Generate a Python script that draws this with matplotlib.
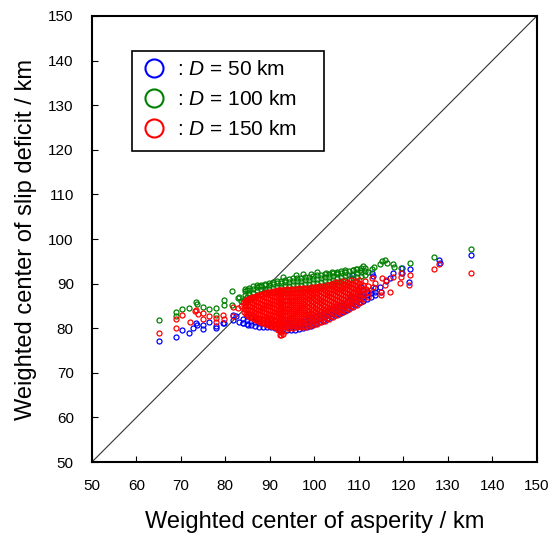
import matplotlib
matplotlib.use("Agg")
import matplotlib.pyplot as plt
from matplotlib.lines import Line2D
from matplotlib.patches import Rectangle

plt.rcParams['font.family'] = ['Liberation Sans', 'DejaVu Sans']
plt.rcParams['mathtext.fontset'] = 'custom'
plt.rcParams['mathtext.rm'] = 'Liberation Sans'
plt.rcParams['mathtext.it'] = 'Liberation Sans:italic'

# --- data: weighted centers (asperity, slip deficit) in km -------------
# sparse points, read one by one
BLUE_X = [65.1, 68.8, 70.2, 71.9, 72.8, 73.5, 73.7, 75.0, 74.9, 76.3, 77.9, 78.0,
          79.5, 79.7, 81.8, 81.8, 82.5, 83.0, 84.0, 85.1,
          105.7, 106.3, 108.0, 108.4, 108.7, 110.2, 110.6, 111.0, 112.9, 113.2,
          114.7, 114.9, 116.2, 117.0, 117.7, 119.6, 119.6, 121.5, 121.3, 128.0,
          128.2, 135.3]
BLUE_Y = [77.1, 78.1, 79.6, 78.9, 80.0, 81.1, 80.7, 79.8, 80.7, 81.5, 80.0, 80.6,
          81.1, 81.1, 81.8, 83.0, 82.7, 81.5, 81.1, 80.7,
          85.2, 84.5, 87.1, 92.0, 88.2, 87.4, 89.3, 88.6, 92.3, 91.7,
          89.3, 88.2, 90.5, 91.2, 92.3, 93.5, 92.3, 93.2, 90.3, 95.2,
          94.6, 96.4]

GREEN_X = [65.1, 68.9, 68.9, 70.2, 71.9, 73.5, 73.6, 74.9, 76.3, 77.9, 77.9,
           79.7, 79.7, 81.6, 81.5, 82.9, 83.1, 83.5, 84.0, 84.8, 84.8, 86.3, 87.5,
           88.9, 97.5, 100.7, 102.6, 105.0, 106.9, 108.7, 109.3, 110.2, 111.0,
           112.1, 112.9, 113.5, 114.7, 115.1, 115.8, 116.4, 117.7, 118.0, 119.4,
           121.5, 126.9, 135.3, 93.0, 95.8, 99.2, 103.9]
GREEN_Y = [81.8, 83.7, 82.8, 84.3, 84.5, 85.9, 85.4, 84.7, 84.3, 84.5, 83.0,
           86.3, 85.3, 88.3, 85.2, 86.7, 87.1, 86.2, 85.8, 88.6, 87.1, 88.0, 89.5,
           88.2, 92.2, 92.6, 92.4, 92.7, 92.7, 93.0, 93.2, 93.1, 94.0,
           92.7, 93.2, 93.7, 94.4, 95.0, 95.2, 94.6, 94.3, 93.8, 93.4,
           94.7, 95.9, 97.7, 91.4, 91.9, 92.2, 92.7]

RED_X = [65.1, 68.9, 68.9, 70.2, 72.0, 73.1, 73.5, 73.9, 75.0, 74.9, 76.3,
         77.9, 77.9, 79.5, 79.6, 81.8, 81.7, 82.9, 83.5, 84.8,
         105.0, 108.7, 109.8, 111.3, 111.7, 112.9, 113.2, 113.6, 114.9, 114.9,
         115.1, 115.8, 116.2, 117.0, 117.7, 119.2, 119.4, 119.4, 121.5, 121.3,
         126.9, 128.0, 135.3]
RED_Y = [78.9, 82.0, 80.0, 83.0, 81.5, 83.9, 84.1, 83.1, 82.0, 83.5, 82.7,
         82.4, 81.4, 83.0, 82.0, 82.7, 84.7, 84.5, 85.0, 86.2,
         86.4, 87.9, 88.6, 90.5, 88.9, 91.2, 89.3, 90.1, 87.5, 88.2,
         91.2, 89.7, 90.8, 88.2, 91.5, 90.1, 92.4, 91.4, 92.0, 89.6,
         93.3, 94.4, 92.5]

# dense core, read column by column (x, then the y values in that column)
BLUE_CORE_X = [84.0, 84.9, 85.8, 86.7, 87.6, 88.5, 89.4, 90.3, 91.2, 92.1, 93.0,
               93.9, 94.8, 95.7, 96.6, 97.5, 98.4, 99.3, 100.2, 101.1, 102.0,
               102.9, 103.8, 104.7, 105.6, 106.5, 107.4, 108.3, 109.2, 110.1,
               111.0, 111.9, 112.8, 113.7]
BLUE_CORE_Y = [[81.1, 82.0], [80.9, 81.8, 82.7], [80.7, 81.6, 82.5],
               [80.4, 81.3, 82.2], [80.3, 81.2, 82.1], [80.3, 81.1, 82.0],
               [80.2, 81.1, 81.9], [80.3, 81.0, 81.8], [80.0, 80.8, 81.6],
               [79.9, 80.7, 81.5], [79.8, 80.6, 81.4], [79.7, 80.5, 81.3],
               [79.6, 80.4, 81.2], [79.7, 80.5, 81.3], [79.8, 80.6, 81.4],
               [80.0, 80.8, 81.6], [80.3, 81.1, 81.9], [80.6, 81.4, 82.2],
               [80.9, 81.7, 82.5], [81.3, 82.1, 82.9], [81.7, 82.5, 83.3],
               [82.1, 82.9, 83.7], [82.5, 83.3, 84.1], [82.9, 83.7, 84.5],
               [83.3, 84.1, 84.9], [83.7, 84.5, 85.3], [84.2, 85.0, 85.8],
               [84.7, 85.5, 86.3], [85.2, 86.0, 86.8], [85.7, 86.5, 87.3],
               [86.1, 86.9, 87.7], [86.6, 87.4, 88.2], [87.0, 87.8, 88.6],
               [87.4, 88.2, 89.0]]

GREEN_CORE_X = [84.5, 85.4, 86.3, 87.2, 88.1, 89.0, 89.9, 90.8, 91.7, 92.6, 93.5,
                94.4, 95.3, 96.2, 97.1, 98.0, 98.9, 99.8, 100.7, 101.6, 102.5,
                103.4, 104.3, 105.2, 106.1, 107.0, 107.9, 108.8, 109.7, 110.6,
                111.5]
GREEN_CORE_Y = [[86.5, 87.4, 88.3, 88.9], [86.8, 87.7, 88.6, 89.1],
                [87.1, 88.0, 88.9, 89.4], [87.4, 88.3, 89.2, 89.7],
                [87.7, 88.6, 89.5, 89.8], [87.9, 88.8, 89.7, 90.0],
                [88.0, 88.9, 89.8, 90.2], [88.1, 89.0, 89.9, 90.4],
                [88.3, 89.2, 90.1, 90.6], [88.4, 89.3, 90.2, 90.7],
                [88.5, 89.4, 90.3, 90.9], [88.6, 89.5, 90.4, 91.0],
                [88.7, 89.6, 90.5, 91.2], [88.8, 89.7, 90.6, 91.3],
                [88.9, 89.8, 90.7, 91.3], [89.0, 89.9, 90.8, 91.4],
                [89.1, 90.0, 90.9, 91.6], [89.2, 90.1, 91.0, 91.8],
                [89.3, 90.2, 91.1, 91.9], [89.4, 90.3, 91.2, 92.0],
                [89.6, 90.5, 91.4, 92.1], [89.8, 90.7, 91.6, 92.2],
                [90.0, 90.9, 91.8, 92.3], [90.3, 91.2, 92.1, 92.5],
                [90.6, 91.5, 92.4, 92.8], [90.9, 91.8, 92.7, 93.1],
                [91.1, 92.0, 92.9], [91.3, 92.2, 93.1], [91.5, 92.4, 93.2],
                [91.7, 92.6, 93.4], [91.9, 92.8, 93.5]]

RED_CORE_X = [84.1, 85.0, 85.9, 86.8, 87.7, 88.6, 89.5, 90.4, 91.3, 92.2, 93.0,
              93.9, 94.8, 95.7, 96.6, 97.5, 98.4, 99.3, 100.2, 101.1, 102.0,
              102.9, 103.8, 104.7, 105.6, 106.5, 107.4, 108.3, 109.2, 110.1,
              111.0, 112.1,
              84.6, 85.5, 86.4, 87.3, 88.2, 89.1, 90.0, 90.9, 91.8, 92.6, 93.5,
              94.4, 95.3, 96.2, 97.1, 98.0, 98.9, 99.8, 100.7, 101.6, 102.5,
              103.4, 104.3, 105.2, 106.1, 107.0, 107.9, 108.8, 109.7, 110.6]
RED_CORE_Y = [[83.6, 84.4, 85.3, 86.0],
              [82.7, 83.5, 84.4, 85.2, 86.1, 86.6],
              [82.3, 83.1, 84.0, 84.8, 85.7, 86.5, 87.0],
              [81.8, 82.6, 83.5, 84.3, 85.2, 86.0, 86.9, 87.3],
              [81.4, 82.3, 83.1, 84.0, 84.8, 85.7, 86.5, 87.4],
              [81.1, 81.9, 82.8, 83.6, 84.5, 85.3, 86.2, 87.0, 87.8],
              [80.8, 81.6, 82.5, 83.3, 84.2, 85.0, 85.9, 86.7, 87.6, 88.1],
              [80.4, 81.3, 82.1, 83.0, 83.8, 84.7, 85.5, 86.4, 87.2, 88.1],
              [80.2, 81.0, 81.9, 82.7, 83.6, 84.4, 85.3, 86.1, 87.0, 87.8, 88.4],
              [78.6, 79.4, 80.3, 81.1, 82.0, 82.8, 83.7, 84.5, 85.4, 86.2, 87.1,
               87.9, 88.5],
              [78.8, 79.6, 80.5, 81.3, 82.2, 83.0, 83.9, 84.7, 85.6, 86.4, 87.3,
               88.1, 88.6],
              [80.4, 81.2, 82.1, 82.9, 83.8, 84.6, 85.5, 86.3, 87.2, 88.0, 88.7],
              [80.5, 81.3, 82.2, 83.0, 83.9, 84.7, 85.6, 86.4, 87.3, 88.1, 88.8],
              [80.5, 81.4, 82.2, 83.1, 83.9, 84.8, 85.6, 86.5, 87.3, 88.2, 88.9],
              [80.6, 81.4, 82.3, 83.1, 84.0, 84.8, 85.7, 86.5, 87.4, 88.2, 89.0],
              [80.6, 81.5, 82.3, 83.2, 84.0, 84.9, 85.7, 86.6, 87.4, 88.3, 89.0],
              [80.8, 81.6, 82.5, 83.3, 84.2, 85.0, 85.9, 86.7, 87.6, 88.4, 89.1],
              [81.0, 81.8, 82.7, 83.5, 84.4, 85.2, 86.1, 86.9, 87.8, 88.6, 89.2],
              [81.2, 82.1, 82.9, 83.8, 84.6, 85.5, 86.3, 87.2, 88.0, 88.8, 89.3],
              [81.5, 82.4, 83.2, 84.1, 84.9, 85.8, 86.6, 87.5, 88.3, 89.1, 89.4],
              [81.9, 82.7, 83.6, 84.4, 85.3, 86.1, 87.0, 87.8, 88.7, 89.5],
              [82.3, 83.1, 84.0, 84.8, 85.7, 86.5, 87.4, 88.2, 89.1, 89.7],
              [82.8, 83.6, 84.5, 85.3, 86.2, 87.0, 87.9, 88.7, 89.5, 90.0],
              [83.2, 84.0, 84.9, 85.7, 86.6, 87.4, 88.3, 89.1, 89.9, 90.3],
              [83.6, 84.4, 85.3, 86.1, 87.0, 87.8, 88.7, 89.5, 90.3],
              [84.0, 84.9, 85.7, 86.6, 87.4, 88.3, 89.1, 90.0, 90.6],
              [84.5, 85.3, 86.2, 87.0, 87.9, 88.7, 89.6, 90.4],
              [84.9, 85.8, 86.6, 87.5, 88.3, 89.2, 90.0, 90.8],
              [85.4, 86.3, 87.1, 88.0, 88.8, 89.7, 90.5],
              [85.9, 86.8, 87.6, 88.5, 89.3, 90.2, 90.9],
              [86.5, 87.6, 88.7, 89.8],
              [86.9, 88.2, 89.5],
              # staggered columns between the ones above
              [83.2, 84.0, 84.9, 85.7, 86.3],
              [82.5, 83.3, 84.2, 85.0, 85.9, 86.7],
              [82.0, 82.9, 83.7, 84.6, 85.4, 86.3, 87.1],
              [81.6, 82.4, 83.3, 84.1, 85.0, 85.8, 86.7, 87.4],
              [81.2, 82.1, 82.9, 83.8, 84.6, 85.5, 86.3, 87.2, 87.7],
              [80.9, 81.8, 82.6, 83.5, 84.3, 85.2, 86.0, 86.9, 87.7, 88.0],
              [80.6, 81.5, 82.3, 83.2, 84.0, 84.9, 85.7, 86.6, 87.4, 88.2],
              [80.3, 81.2, 82.0, 82.9, 83.7, 84.6, 85.4, 86.3, 87.1, 88.0, 88.4],
              [79.6, 80.6, 81.5, 82.3, 83.2, 84.0, 84.9, 85.7, 86.6, 87.4, 88.2,
               88.5],
              [78.5, 79.2, 80.0, 80.9, 81.7, 82.6, 83.4, 84.3, 85.1, 86.0, 86.8,
               87.7, 88.5],
              [79.3, 80.2, 81.0, 81.9, 82.7, 83.6, 84.4, 85.3, 86.1, 87.0, 87.8,
               88.6],
              [80.1, 80.9, 81.8, 82.6, 83.5, 84.3, 85.2, 86.0, 86.9, 87.7, 88.5],
              [80.1, 81.0, 81.8, 82.7, 83.5, 84.4, 85.2, 86.1, 86.9, 87.8, 88.6],
              [80.2, 81.0, 81.9, 82.7, 83.6, 84.4, 85.3, 86.1, 87.0, 87.8, 88.7],
              [80.2, 81.1, 81.9, 82.8, 83.6, 84.5, 85.3, 86.2, 87.0, 87.9, 88.7],
              [80.3, 81.2, 82.0, 82.9, 83.7, 84.6, 85.4, 86.3, 87.1, 88.0, 88.8],
              [80.5, 81.4, 82.2, 83.1, 83.9, 84.8, 85.6, 86.5, 87.3, 88.2, 88.9],
              [80.7, 81.6, 82.4, 83.3, 84.1, 85.0, 85.8, 86.7, 87.5, 88.4, 89.0],
              [81.0, 81.8, 82.7, 83.5, 84.4, 85.2, 86.1, 86.9, 87.8, 88.6, 89.2],
              [81.3, 82.2, 83.0, 83.9, 84.7, 85.6, 86.4, 87.3, 88.1, 89.0],
              [81.7, 82.5, 83.4, 84.2, 85.1, 85.9, 86.8, 87.6, 88.5, 89.3],
              [82.1, 82.9, 83.8, 84.6, 85.5, 86.3, 87.2, 88.0, 88.9, 89.6],
              [82.6, 83.4, 84.3, 85.1, 86.0, 86.8, 87.7, 88.5, 89.4, 89.9],
              [83.0, 83.8, 84.7, 85.5, 86.4, 87.2, 88.1, 88.9, 89.8],
              [83.4, 84.2, 85.1, 85.9, 86.8, 87.6, 88.5, 89.3, 90.1],
              [83.9, 84.7, 85.6, 86.4, 87.3, 88.1, 89.0, 89.8],
              [84.3, 85.2, 86.0, 86.9, 87.7, 88.6, 89.4, 90.2],
              [84.8, 85.6, 86.5, 87.3, 88.2, 89.0, 89.9],
              [85.3, 86.1, 87.0, 87.8, 88.7, 89.5, 90.3],
              [86.0, 86.9, 87.7, 88.6, 89.4]]

LABELS = ['50', '100', '150']
COLORS = ['#0000ff', '#008000', '#ff0000']
TICKS = [50, 60, 70, 80, 90, 100, 110, 120, 130, 140, 150]


def expand(col_x, col_y):
    xs, ys = [], []
    for x, column in zip(col_x, col_y):
        xs += [x] * len(column)
        ys += column
    return xs, ys


series = [
    (BLUE_X, BLUE_Y, BLUE_CORE_X, BLUE_CORE_Y),
    (GREEN_X, GREEN_Y, GREEN_CORE_X, GREEN_CORE_Y),
    (RED_X, RED_Y, RED_CORE_X, RED_CORE_Y),
]

fig = plt.figure(figsize=(5.5, 5.33), dpi=100)
ax = fig.add_axes([0.167, 0.133, 0.809, 0.837])

# 1:1 line
ax.plot([50, 150], [50, 150], color='#333333', lw=0.8, zorder=1)

for (sx, sy, cx, cy), color in zip(series, COLORS):
    kx, ky = expand(cx, cy)
    ax.plot(sx + kx, sy + ky, linestyle='none', marker='o', ms=3.6,
            mfc='none', mec=color, mew=0.9, zorder=2)

ax.set_xlim(50, 150)
ax.set_ylim(50, 150)
ax.set_xticks(TICKS)
ax.set_yticks(TICKS)
ax.tick_params(direction='in', length=4, width=0.8, labelsize=11)
ax.tick_params(axis='x', pad=12)
ax.tick_params(axis='y', pad=13)
for sp in ax.spines.values():
    sp.set_linewidth(1.5)

ax.set_xlabel('Weighted center of asperity / km', fontsize=17, labelpad=13)
ax.set_ylabel('Weighted center of slip deficit / km', fontsize=17, labelpad=8)

# legend: box drawn separately so its width matches the original
ax.add_patch(Rectangle((0.090, 0.697), 0.431, 0.2245, transform=ax.transAxes,
                       fill=True, facecolor='white', edgecolor='black',
                       lw=1.2, zorder=5))
handles = [Line2D([], [], linestyle='none', marker='o', ms=13, mfc='none',
                  mec=c, mew=1.5) for c in COLORS]
labels = [': $\\mathit{D}$ = %s km' % d for d in LABELS]
leg = ax.legend(handles, labels, loc='upper left', bbox_to_anchor=(0.09, 0.9215),
                borderaxespad=0, fontsize=15, frameon=False,
                handlelength=1.22, handletextpad=0.5, labelspacing=0.53,
                borderpad=0.45)
leg.set_zorder(6)

fig.savefig('out.png', dpi=100)
